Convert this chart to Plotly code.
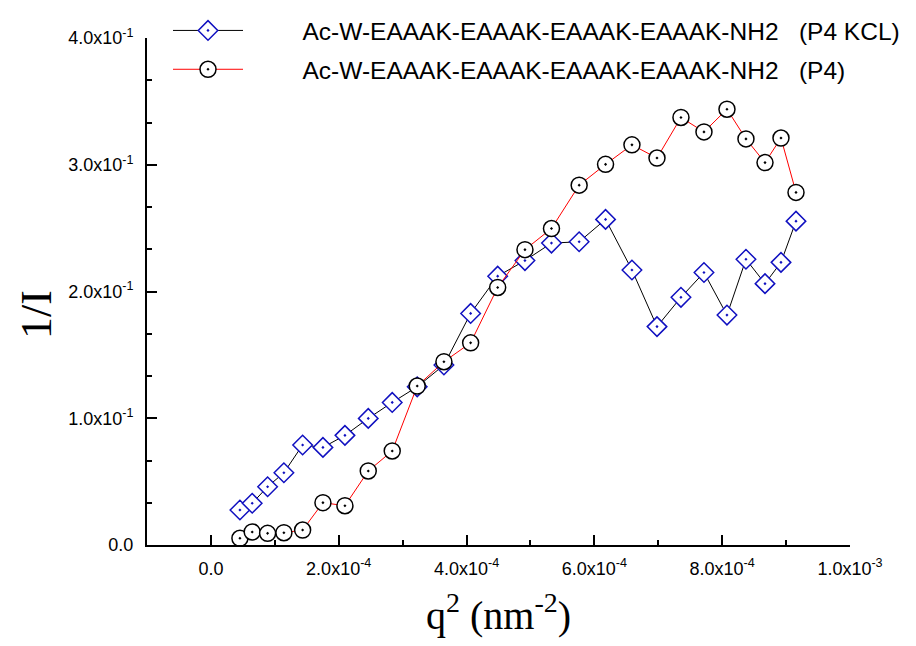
import plotly.graph_objects as go

# q^2 values (nm^-2), shared by both series
q2 = [4.54e-5, 6.46e-5, 8.87e-5, 1.142e-4, 1.435e-4, 1.753e-4, 2.097e-4, 2.462e-4,
      2.837e-4, 3.228e-4, 3.646e-4, 4.064e-4, 4.487e-4, 4.914e-4, 5.329e-4, 5.762e-4,
      6.175e-4, 6.588e-4, 6.980e-4, 7.355e-4, 7.715e-4, 8.075e-4, 8.372e-4, 8.670e-4,
      8.920e-4, 9.155e-4]

# 1/I for P4 KCL (blue diamonds)
inv_i_kcl = [0.0276, 0.0329, 0.0460, 0.0570, 0.0789, 0.0770, 0.0865, 0.0999,
             0.1125, 0.1248, 0.1420, 0.1827, 0.2121, 0.2244, 0.2382, 0.2392,
             0.2569, 0.2170, 0.1723, 0.1954, 0.2150, 0.1814, 0.2254, 0.2062,
             0.2230, 0.2555]

# 1/I for P4 (black circles, red line)
inv_i_p4 = [0.0053, 0.0103, 0.0092, 0.0097, 0.0118, 0.0334, 0.0310, 0.0584,
            0.0742, 0.1254, 0.1446, 0.1595, 0.2032, 0.2330, 0.2497, 0.2839,
            0.3003, 0.3157, 0.3053, 0.3373, 0.3259, 0.3438, 0.3204, 0.3017,
            0.3211, 0.2782]

name_kcl = "Ac-W-EAAAK-EAAAK-EAAAK-EAAAK-NH2   (P4 KCL)"
name_p4 = "Ac-W-EAAAK-EAAAK-EAAAK-EAAAK-NH2   (P4)"

x_tickvals = [0, 2e-4, 4e-4, 6e-4, 8e-4, 1e-3]
x_ticktext = ["0.0", "2.0x10<sup>-4</sup>", "4.0x10<sup>-4</sup>", "6.0x10<sup>-4</sup>",
              "8.0x10<sup>-4</sup>", "1.0x10<sup>-3</sup>"]
y_tickvals = [0, 0.1, 0.2, 0.3, 0.4]
y_ticktext = ["0.0", "1.0x10<sup>-1</sup>", "2.0x10<sup>-1</sup>", "3.0x10<sup>-1</sup>",
              "4.0x10<sup>-1</sup>"]

SANS = "Liberation Sans, Arial, Helvetica, sans-serif"
SERIF = "Liberation Serif, Times New Roman, serif"
PAD = "\u00a0" * 8  # visual gap between legend symbol and text

# the page body adds an 8 px offset, so the figure is kept inside the window
W, H = 900, 630
ML, MR, MT, MB = 139, 58, 30, 93
PW, PH = W - ML - MR, H - MT - MB

fig = go.Figure()
fig.add_trace(go.Scatter(
    x=q2, y=inv_i_kcl, mode="lines+markers", name=PAD + name_kcl, legendgroup="a",
    line=dict(color="black", width=1),
    marker=dict(symbol="diamond-dot", size=15, color="white",
                line=dict(color="#1010C0", width=1.5)),
    cliponaxis=False,
))
fig.add_trace(go.Scatter(
    x=q2, y=inv_i_p4, mode="lines+markers", name=PAD + name_p4, legendgroup="b",
    line=dict(color="red", width=1),
    marker=dict(symbol="circle-dot", size=16, color="white",
                line=dict(color="black", width=1.5)),
    cliponaxis=False,
))

fig.update_layout(
    width=W, height=H,
    margin=dict(l=ML, r=MR, t=MT, b=MB, autoexpand=False),
    paper_bgcolor="white", plot_bgcolor="white",
    font=dict(family=SANS, size=18, color="black"),
    showlegend=True,
    legend=dict(
        xref="paper", yref="paper",
        x=(160 - ML) / PW, y=1 + MT / PH, xanchor="left", yanchor="top",
        font=dict(family=SANS, size=24.5, color="black"),
        bgcolor="rgba(0,0,0,0)", borderwidth=0,
        itemwidth=70, tracegroupgap=4, traceorder="grouped",
    ),
    xaxis=dict(
        range=[-1e-4, 1e-3], showgrid=False, zeroline=False,
        showline=True, linecolor="black", linewidth=2,
        tickmode="array", tickvals=x_tickvals, ticktext=x_ticktext,
        ticks="inside", ticklen=10, tickwidth=2, tickcolor="black",
        minor=dict(dtick=1e-4, tick0=0, ticks="inside", ticklen=5, tickwidth=2, tickcolor="black"),
        tickfont=dict(family=SANS, size=18), ticklabelstandoff=6,
        title=dict(text="q<sup>2</sup> (nm<sup>-2</sup>)", font=dict(family=SERIF, size=40), standoff=25),
        automargin=False,
    ),
    yaxis=dict(
        range=[0, 0.4], showgrid=False, zeroline=False,
        showline=True, linecolor="black", linewidth=2,
        tickmode="array", tickvals=y_tickvals, ticktext=y_ticktext,
        ticks="inside", ticklen=10, tickwidth=2, tickcolor="black",
        minor=dict(dtick=0.1 / 3, tick0=0, ticks="inside", ticklen=5, tickwidth=2, tickcolor="black"),
        tickfont=dict(family=SANS, size=18), ticklabelstandoff=8,
        automargin=False,
    ),
    annotations=[dict(
        text="1/I", textangle=-90, showarrow=False,
        xref="paper", yref="paper",
        x=(28 - ML) / PW, y=(H - MB - 307) / PH,
        xanchor="center", yanchor="middle",
        font=dict(family=SERIF, size=44, color="black"),
    )],
)

fig.write_html("out.html")
